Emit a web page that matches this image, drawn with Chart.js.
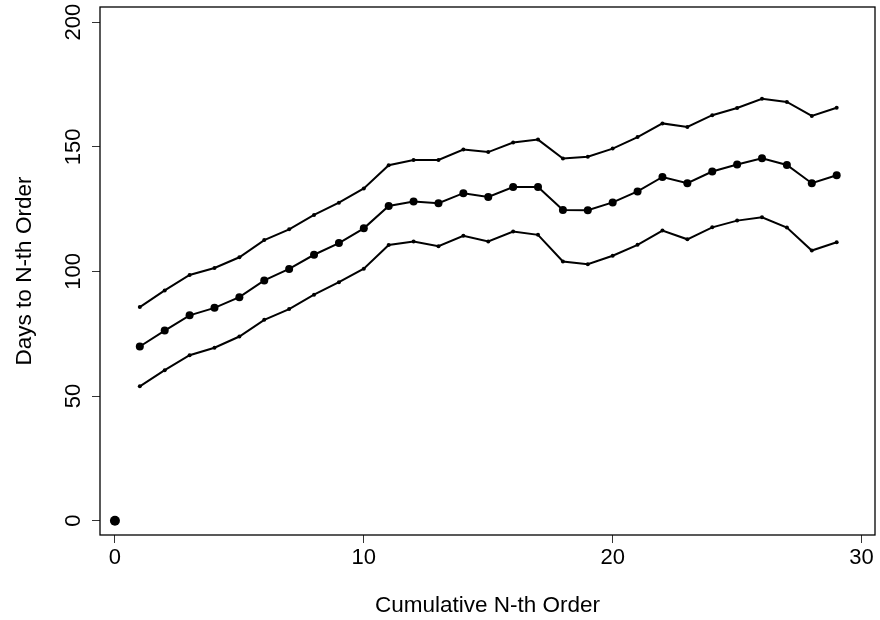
<!DOCTYPE html>
<html>
<head>
<meta charset="utf-8">
<script src="https://cdn.jsdelivr.net/npm/chart.js@4"></script>
<style>
  html, body { margin: 0; padding: 0; background: #fff; }
  #wrap { width: 880px; height: 620px; }
</style>
</head>
<body>
<div id="wrap"><canvas id="orders" width="880" height="620"></canvas></div>
<script>
// N-th order and days until it was placed (mean with upper / lower band)
const orderN = [1, 2, 3, 4, 5, 6, 7, 8, 9, 10, 11, 12, 13, 14, 15, 16, 17, 18, 19, 20, 21, 22, 23, 24, 25, 26, 27, 28, 29];
const upperDays = [85.7, 92.4, 98.6, 101.4, 105.7, 112.6, 116.9, 122.7, 127.6, 133.3, 142.6, 144.7, 144.7, 148.9, 147.9,
                   151.7, 152.9, 145.3, 146.0, 149.3, 153.9, 159.4, 158.0, 162.7, 165.6, 169.3, 168.0, 162.4, 165.7];
const meanDays = [69.9, 76.3, 82.4, 85.4, 89.7, 96.4, 101.0, 106.7, 111.4, 117.3, 126.3, 128.1, 127.4, 131.4, 129.9,
                  133.9, 133.9, 124.7, 124.6, 127.7, 132.1, 137.9, 135.4, 140.1, 142.9, 145.4, 142.7, 135.4, 138.6];
const lowerDays = [53.9, 60.4, 66.4, 69.4, 73.9, 80.6, 84.9, 90.7, 95.7, 101.1, 110.6, 112.0, 110.1, 114.3, 112.0,
                   116.0, 114.7, 104.0, 102.9, 106.3, 110.7, 116.4, 112.9, 117.7, 120.4, 121.7, 117.6, 108.4, 111.7];
const originOrder = [0];
const originDays = [0];

const xTicks = [0, 10, 20, 30];
const yTicks = [0, 50, 100, 150, 200];

const FONT = "'Liberation Sans', Arial, sans-serif";

function pairs(xs, ys) {
    return xs.map((x, i) => ({x: x, y: ys[i]}));
}

function lineSet(ys, radius) {
    return {
        data: pairs(orderN, ys),
        borderColor: '#000',
        borderWidth: 2,
        backgroundColor: '#000',
        pointRadius: radius,
        pointBorderWidth: 0,
        pointBackgroundColor: '#000',
        fill: false,
        tension: 0
    };
}

// box around the plot area
const frame = {
    id: 'frame',
    afterDraw(chart) {
        const a = chart.chartArea;
        const ctx = chart.ctx;
        ctx.save();
        ctx.strokeStyle = '#000';
        ctx.lineWidth = 1.3;
        ctx.strokeRect(a.left, a.top, a.right - a.left, a.bottom - a.top);
        ctx.restore();
    }
};

new Chart('orders', {
    type: 'line',
    data: {
        datasets: [
            lineSet(upperDays, 2),
            lineSet(meanDays, 4),
            lineSet(lowerDays, 2),
            {
                data: pairs(originOrder, originDays),
                showLine: false,
                pointRadius: 5,
                pointBorderWidth: 0,
                pointBackgroundColor: '#000'
            }
        ]
    },
    options: {
        responsive: false,
        animation: false,
        clip: false,
        layout: {padding: {top: 7, right: 2, left: 0, bottom: 0}},
        plugins: {legend: {display: false}, tooltip: {enabled: false}},
        scales: {
            x: {
                type: 'linear',
                min: -0.6,
                max: 30.54,
                afterBuildTicks: s => { s.ticks = xTicks.map(v => ({value: v})); },
                afterFit: s => { s.height = 85; s.paddingLeft = 0; s.paddingRight = 0; },
                border: {display: false},
                grid: {drawOnChartArea: false, tickLength: 8, color: '#333', lineWidth: 1},
                ticks: {color: '#000', font: {family: FONT, size: 22}, padding: 2, maxRotation: 0},
                title: {display: true, text: 'Cumulative N-th Order', color: '#000',
                        font: {family: FONT, size: 22.5}, padding: {top: 0, bottom: 1}}
            },
            y: {
                min: -5.73,
                max: 206.1,
                afterBuildTicks: s => { s.ticks = yTicks.map(v => ({value: v})); },
                afterFit: s => { s.width = 100; s.paddingTop = 0; s.paddingBottom = 0; },
                border: {display: false},
                grid: {drawOnChartArea: false, tickLength: 8, color: '#333', lineWidth: 1},
                ticks: {color: '#000', font: {family: FONT, size: 22}, padding: 0,
                        minRotation: 90, maxRotation: 90, crossAlign: 'center'},
                title: {display: true, text: 'Days to N-th Order', color: '#000',
                        font: {family: FONT, size: 22.5}, padding: {top: 11, bottom: 0}}
            }
        }
    },
    plugins: [frame]
});
</script>
</body>
</html>
